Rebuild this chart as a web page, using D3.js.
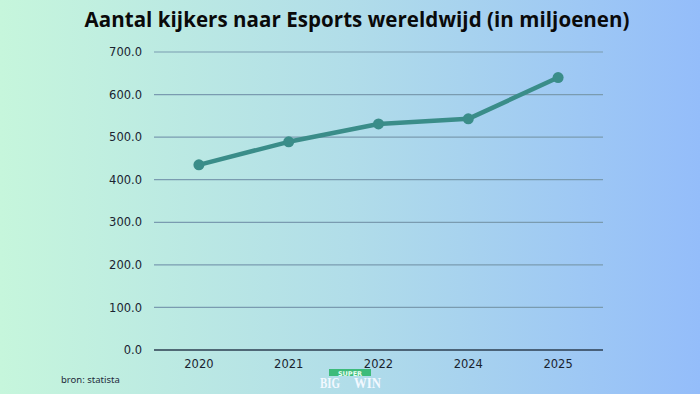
<!DOCTYPE html>
<html><head><meta charset="utf-8">
<script src="https://cdn.jsdelivr.net/npm/d3@7"></script>
<style>body{margin:0;padding:0;overflow:hidden}svg{display:block}</style>
</head><body>
<script>
const years = ["2020","2021","2022","2024","2025"];
const viewers = [435, 489, 531, 543, 640];
const yTicks = [0,100,200,300,400,500,600,700];
const title = "Aantal kijkers naar Esports wereldwijd (in miljoenen)";
const source = "bron: statista";

const W=700,H=394;
const svg=d3.select("body").append("svg").attr("width",W).attr("height",H);
const defs=svg.append("defs");
const g=defs.append("linearGradient").attr("id","bg").attr("x1","0").attr("x2","1").attr("y1","0").attr("y2","0");
g.append("stop").attr("offset","0").attr("stop-color","#c6f6dc");
g.append("stop").attr("offset","0.5").attr("stop-color","#b1dde9");
g.append("stop").attr("offset","1").attr("stop-color","#94bdfa");
svg.append("rect").attr("width",W).attr("height",H).attr("fill","url(#bg)");

svg.append("text").attr("x",357).attr("y",27).attr("text-anchor","middle")
 .attr("font-family","Open Sans").attr("font-weight","bold").attr("font-size",20.5)
 .attr("fill","#0a0a0a").attr("textLength",545).text(title);

const x=d3.scaleBand().domain(years).range([154,603]);
const y=d3.scaleLinear().domain([0,700]).range([350,52]);

const grid=svg.append("g");
grid.selectAll("line").data(yTicks.filter(d=>d>0)).join("line")
 .attr("x1",154).attr("x2",603).attr("y1",d=>y(d)).attr("y2",d=>y(d))
 .attr("stroke","#7a9bb0").attr("stroke-width",1.2);
svg.append("line").attr("x1",154).attr("x2",603).attr("y1",y(0)).attr("y2",y(0))
 .attr("stroke","#2c3e50").attr("stroke-width",1.3);

const yAxis=svg.append("g").attr("transform","translate(145,0)")
 .call(d3.axisLeft(y).tickValues(yTicks).tickFormat(d3.format(".1f")).tickSize(0));
yAxis.select(".domain").remove();
yAxis.selectAll("text").attr("font-family","'DejaVu Sans', sans-serif").attr("font-size",11.5).attr("fill","#1a2330");

const xAxis=svg.append("g").attr("transform","translate(0,355)")
 .call(d3.axisBottom(x).tickSize(0));
xAxis.select(".domain").remove();
xAxis.selectAll("text").attr("font-family","'DejaVu Sans', sans-serif").attr("font-size",11.5).attr("fill","#1a2330").attr("dy","0.85em");

const data=years.map((k,i)=>({k,v:viewers[i]}));
svg.append("path").datum(data)
 .attr("d",d3.line().x(d=>x(d.k)+x.bandwidth()/2).y(d=>y(d.v)))
 .attr("fill","none").attr("stroke","#3a8d89").attr("stroke-width",4.5).attr("stroke-linejoin","round");
svg.selectAll("circle.pt").data(data).join("circle").attr("class","pt")
 .attr("cx",d=>x(d.k)+x.bandwidth()/2).attr("cy",d=>y(d.v)).attr("r",5.5).attr("fill","#3a8d89");

svg.append("text").attr("x",61).attr("y",383).attr("font-family","'Noto Sans', sans-serif")
 .attr("font-size",9.5).attr("fill","#1e2a3a").text(source);

// logo
svg.append("rect").attr("x",329).attr("y",369).attr("width",42).attr("height",7).attr("fill","#3dbb7a");
svg.append("text").attr("x",350).attr("y",375.5).attr("text-anchor","middle").attr("font-family","'DejaVu Sans', sans-serif")
 .attr("font-weight","bold").attr("font-size",6.5).attr("fill","#eafff2").text("SUPER");
svg.append("text").attr("x",320).attr("y",388).attr("font-family","'Liberation Serif', serif")
 .attr("font-weight","bold").attr("font-size",14).attr("fill","#f2f8ff").attr("textLength",20).attr("lengthAdjust","spacingAndGlyphs").text("BIG");
svg.append("text").attr("x",354).attr("y",388).attr("font-family","'Liberation Serif', serif")
 .attr("font-weight","bold").attr("font-size",14).attr("fill","#f2f8ff").attr("textLength",27).attr("lengthAdjust","spacingAndGlyphs").text("WIN");
</script>
</body></html>
